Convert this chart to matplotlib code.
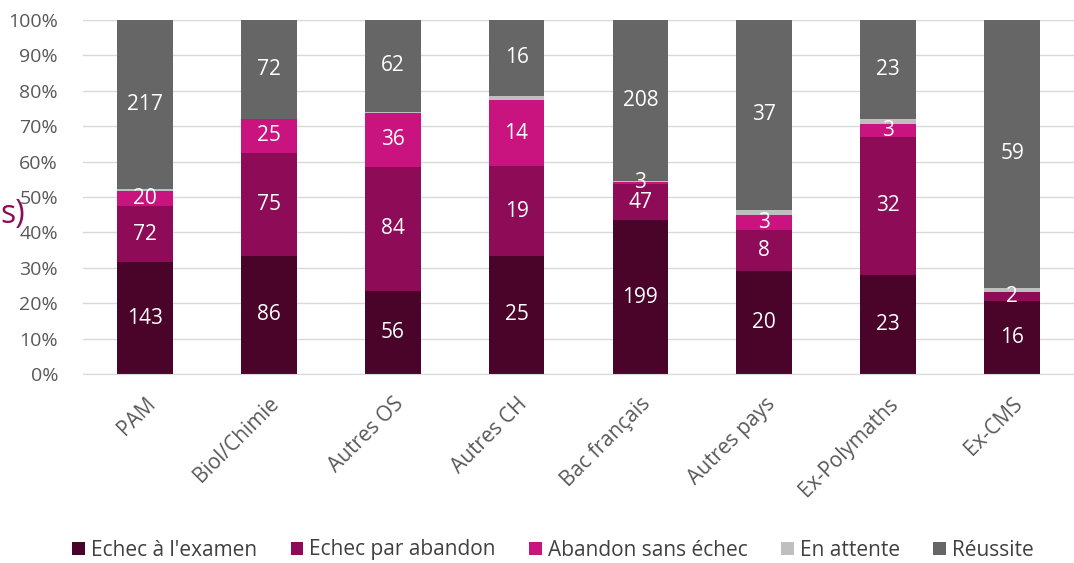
import numpy as np
import matplotlib
matplotlib.use("Agg")
import matplotlib.pyplot as plt

plt.rcParams['font.family'] = ['Open Sans', 'DejaVu Sans']

# Données (effectifs)
categories = ["PAM", "Biol/Chimie", "Autres OS", "Autres CH", "Bac français",
              "Autres pays", "Ex-Polymaths", "Ex-CMS"]
series_names = ["Echec à l'examen", "Echec par abandon", "Abandon sans échec",
                "En attente", "Réussite"]
echec_examen = [143, 86, 56, 25, 199, 20, 23, 16]
echec_abandon = [72, 75, 84, 19, 47, 8, 32, 2]
abandon_sans_echec = [20, 25, 36, 14, 3, 3, 3, 0]
en_attente = [2, 0, 1, 1, 1, 1, 1, 1]
reussite = [217, 72, 62, 16, 208, 37, 23, 59]

colors = ["#4A0329", "#8E0B57", "#C9137E", "#BFBFBF", "#666666"]

data = np.array([echec_examen, echec_abandon, abandon_sans_echec, en_attente, reussite], dtype=float)
totals = data.sum(axis=0)
pct = data / totals * 100

fig = plt.figure(figsize=(10.74, 5.63), dpi=100)
ax = fig.add_axes([83 / 1074, 1 - 374 / 563, (1074 - 83) / 1074, (374 - 20) / 563])

x = np.arange(len(categories))
bottom = np.zeros(len(categories))
for i, name in enumerate(series_names):
    ax.bar(x, pct[i], 0.45, bottom=bottom, color=colors[i], label=name, zorder=2)
    if name != "En attente":
        for j in range(len(categories)):
            if data[i, j] > 0:
                ax.text(x[j], bottom[j] + pct[i, j] / 2, f"{int(data[i, j])}",
                        ha="center", va="center", color="white", fontsize=15, zorder=3)
    bottom += pct[i]

ax.set_xlim(-0.5, len(categories) - 0.5)
ax.set_ylim(0, 100)
ax.set_yticks(np.arange(0, 101, 10))
ax.set_yticklabels([f"{v}%" for v in range(0, 101, 10)], fontsize=14, color="#595959")
ax.set_xticks(x)
ax.set_xticklabels(categories, rotation=45, ha="right", rotation_mode="anchor",
                   fontsize=15, color="#595959")
ax.tick_params(axis="y", length=0, pad=18)
ax.tick_params(axis="x", length=0, pad=14)
ax.yaxis.grid(True, color="#D9D9D9", linewidth=1, zorder=0)
for side in ["top", "right", "left"]:
    ax.spines[side].set_visible(False)
ax.spines["bottom"].set_color("#D9D9D9")

fig.legend(loc="center", bbox_to_anchor=(0.515, 1 - 550 / 563), ncol=5, frameon=False,
           fontsize=15, handlelength=0.6, handleheight=0.6, handletextpad=0.3,
           columnspacing=1.6, labelcolor="#404040")

# texte tronqué à gauche
fig.text(0.0, 1 - 215 / 563, "s)", fontsize=23, color="#8E0B57", va="center", ha="left")

fig.savefig("out.png", dpi=100)
